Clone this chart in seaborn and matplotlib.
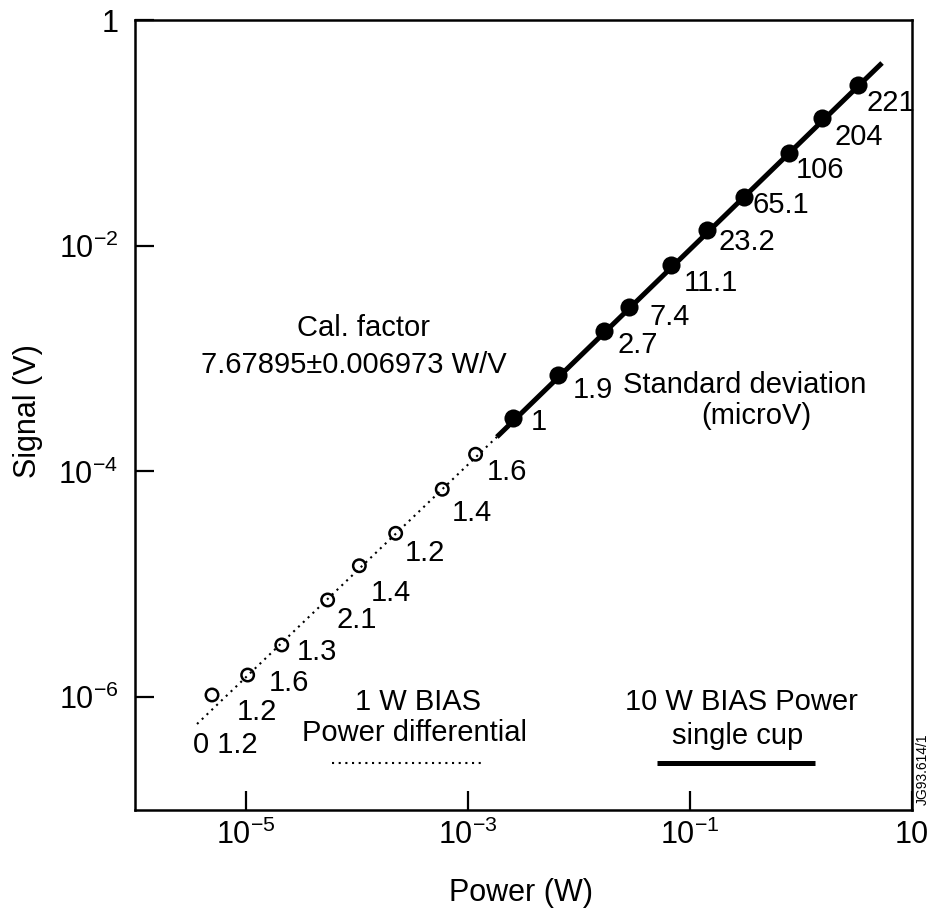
import matplotlib
matplotlib.use("Agg")
import matplotlib.pyplot as plt
import seaborn as sns
import numpy as np
import pandas as pd

# ---------------- data ----------------
# 1 W BIAS, power differential (open circles)
open_power = [4.94e-6, 1.035e-5, 2.10e-5, 5.44e-5, 1.05e-4, 2.23e-4, 5.86e-4, 1.17e-3]
open_signal = [1.045e-6, 1.57e-6, 2.90e-6, 7.26e-6, 1.46e-5, 2.83e-5, 6.95e-5, 1.42e-4]
open_sd = ["1.2", "1.6", "1.3", "2.1", "1.4", "1.2", "1.4", "1.6"]

# 10 W BIAS power, single cup (filled circles)
filled_power = [2.56e-3, 6.52e-3, 0.0168, 0.0282, 0.0675, 0.143, 0.306, 0.780, 1.535, 3.28]
filled_signal = [2.96e-4, 7.14e-4, 1.77e-3, 2.88e-3, 6.68e-3, 0.01377, 0.0269, 0.0659, 0.1346, 0.2655]
filled_sd = ["1", "1.9", "2.7", "7.4", "11.1", "23.2", "65.1", "106", "204", "221"]

# calibration fit lines
fit_dotted_power = [3.62e-6, 1.82e-3]
fit_dotted_signal = [5.78e-7, 2.02e-4]
fit_solid_power = [1.82e-3, 5.37]
fit_solid_signal = [2.02e-4, 0.416]

xtick_vals = [1e-5, 1e-3, 1e-1, 10]
xtick_labels = ["$10^{-5}$", "$10^{-3}$", "$10^{-1}$", "10"]
ytick_vals = [1e-6, 1e-4, 1e-2, 1]
ytick_labels = ["$10^{-6}$", "$10^{-4}$", "$10^{-2}$", "1"]

# ---------------- style ----------------
sns.set_theme(style="white")
plt.rcParams["font.family"] = ["Liberation Sans", "DejaVu Sans"]
plt.rcParams["mathtext.fontset"] = "custom"
plt.rcParams["mathtext.rm"] = "Liberation Sans"
plt.rcParams["mathtext.it"] = "Liberation Sans:italic"
plt.rcParams["mathtext.bf"] = "Liberation Sans:bold"
plt.rcParams["mathtext.default"] = "regular"
plt.rcParams["text.color"] = "black"
plt.rcParams["axes.labelcolor"] = "black"
plt.rcParams["xtick.color"] = "black"
plt.rcParams["ytick.color"] = "black"

fig = plt.figure(figsize=(9.35, 9.13), dpi=100)
ax = fig.add_axes([135 / 935, 1 - 810 / 913, 777 / 935, 790 / 913])
ax.set_xscale("log")
ax.set_yscale("log")

df_open = pd.DataFrame({"power": open_power, "signal": open_signal})
df_filled = pd.DataFrame({"power": filled_power, "signal": filled_signal})
df_fd = pd.DataFrame({"power": fit_dotted_power, "signal": fit_dotted_signal})
df_fs = pd.DataFrame({"power": fit_solid_power, "signal": fit_solid_signal})

sns.lineplot(data=df_fd, x="power", y="signal", ax=ax, color="black",
             linewidth=1.5, linestyle=(0, (1, 2.2)), estimator=None, sort=False)
sns.lineplot(data=df_fs, x="power", y="signal", ax=ax, color="black",
             linewidth=3.6, estimator=None, sort=False, solid_capstyle="butt")
sns.scatterplot(data=df_open, x="power", y="signal", ax=ax, marker="o",
                s=80, facecolor="none", edgecolor="black", linewidth=1.8, zorder=5)
sns.scatterplot(data=df_filled, x="power", y="signal", ax=ax, marker="o",
                s=170, color="black", edgecolor="black", linewidth=0, zorder=5)

# std-dev labels (offsets in pixels)
open_off = [(25, -17), (21, -8), (15, -7), (9, -20), (11, -27), (9, -20), (10, -24), (11, -18)]
filled_off = [(17, -4), (14, -15), (13, -14), (21, -10), (13, -18), (11, -12), (9, -8), (7, -17), (13, -19), (8, -18)]
fs_ann = 21
for x, y, t, o in zip(open_power, open_signal, open_sd, open_off):
    ax.annotate(t, (x, y), xytext=o, textcoords="offset pixels",
                ha="left", va="center", fontsize=fs_ann)
for x, y, t, o in zip(filled_power, filled_signal, filled_sd, filled_off):
    ax.annotate(t, (x, y), xytext=o, textcoords="offset pixels",
                ha="left", va="center", fontsize=fs_ann)

ax.text(0.116, 0.082, "0 1.2", transform=ax.transAxes, ha="center", va="center", fontsize=fs_ann)

# free texts
ax.text(0.294, 0.610, "Cal. factor", transform=ax.transAxes, ha="center", va="center", fontsize=fs_ann)
ax.text(0.282, 0.563, "7.67895\u00b10.006973 W/V", transform=ax.transAxes, ha="center", va="center", fontsize=fs_ann)
ax.text(0.785, 0.538, "Standard deviation", transform=ax.transAxes, ha="center", va="center", fontsize=fs_ann)
ax.text(0.800, 0.499, "(microV)", transform=ax.transAxes, ha="center", va="center", fontsize=fs_ann)
ax.text(0.364, 0.137, "1 W BIAS", transform=ax.transAxes, ha="center", va="center", fontsize=fs_ann)
ax.text(0.360, 0.097, "Power differential", transform=ax.transAxes, ha="center", va="center", fontsize=fs_ann)
ax.text(0.780, 0.137, "10 W BIAS Power", transform=ax.transAxes, ha="center", va="center", fontsize=fs_ann)
ax.text(0.775, 0.094, "single cup", transform=ax.transAxes, ha="center", va="center", fontsize=fs_ann)
ax.plot([0.2535, 0.450], [0.0595, 0.0595], transform=ax.transAxes, color="black",
        linewidth=1.5, linestyle=(0, (1, 2.2)))
ax.plot([0.672, 0.875], [0.0595, 0.0595], transform=ax.transAxes, color="black",
        linewidth=3.6, solid_capstyle="butt")

fig.text(0.987, 0.157, "JG93.614/1", rotation=90, ha="center", va="center", fontsize=10)

# axes
ax.set_xlim(1e-6, 10)
ax.set_ylim(1e-7, 1)
ax.xaxis.set_major_locator(matplotlib.ticker.FixedLocator(xtick_vals))
ax.yaxis.set_major_locator(matplotlib.ticker.FixedLocator(ytick_vals))
ax.xaxis.set_minor_locator(matplotlib.ticker.NullLocator())
ax.yaxis.set_minor_locator(matplotlib.ticker.NullLocator())
ax.set_xticklabels(xtick_labels)
ax.set_yticklabels(ytick_labels)
ax.tick_params(axis="both", which="major", direction="in", length=14, width=1.6,
               labelsize=22, colors="black", bottom=True, left=True, top=False, right=False)
ax.tick_params(axis="x", pad=7)
ax.tick_params(axis="y", pad=12)
for sp in ax.spines.values():
    sp.set_color("black")
    sp.set_linewidth(1.8)
    sp.set_visible(True)

ax.set_xlabel("Power (W)", fontsize=22)
ax.set_ylabel("Signal (V)", fontsize=22)
ax.xaxis.set_label_coords(0.497, -0.105)
ax.yaxis.set_label_coords(-0.138, 0.505)
ax.xaxis.label.set_va("center")
ax.yaxis.label.set_va("center")
ax.grid(False)

fig.savefig("out.png", dpi=100)
